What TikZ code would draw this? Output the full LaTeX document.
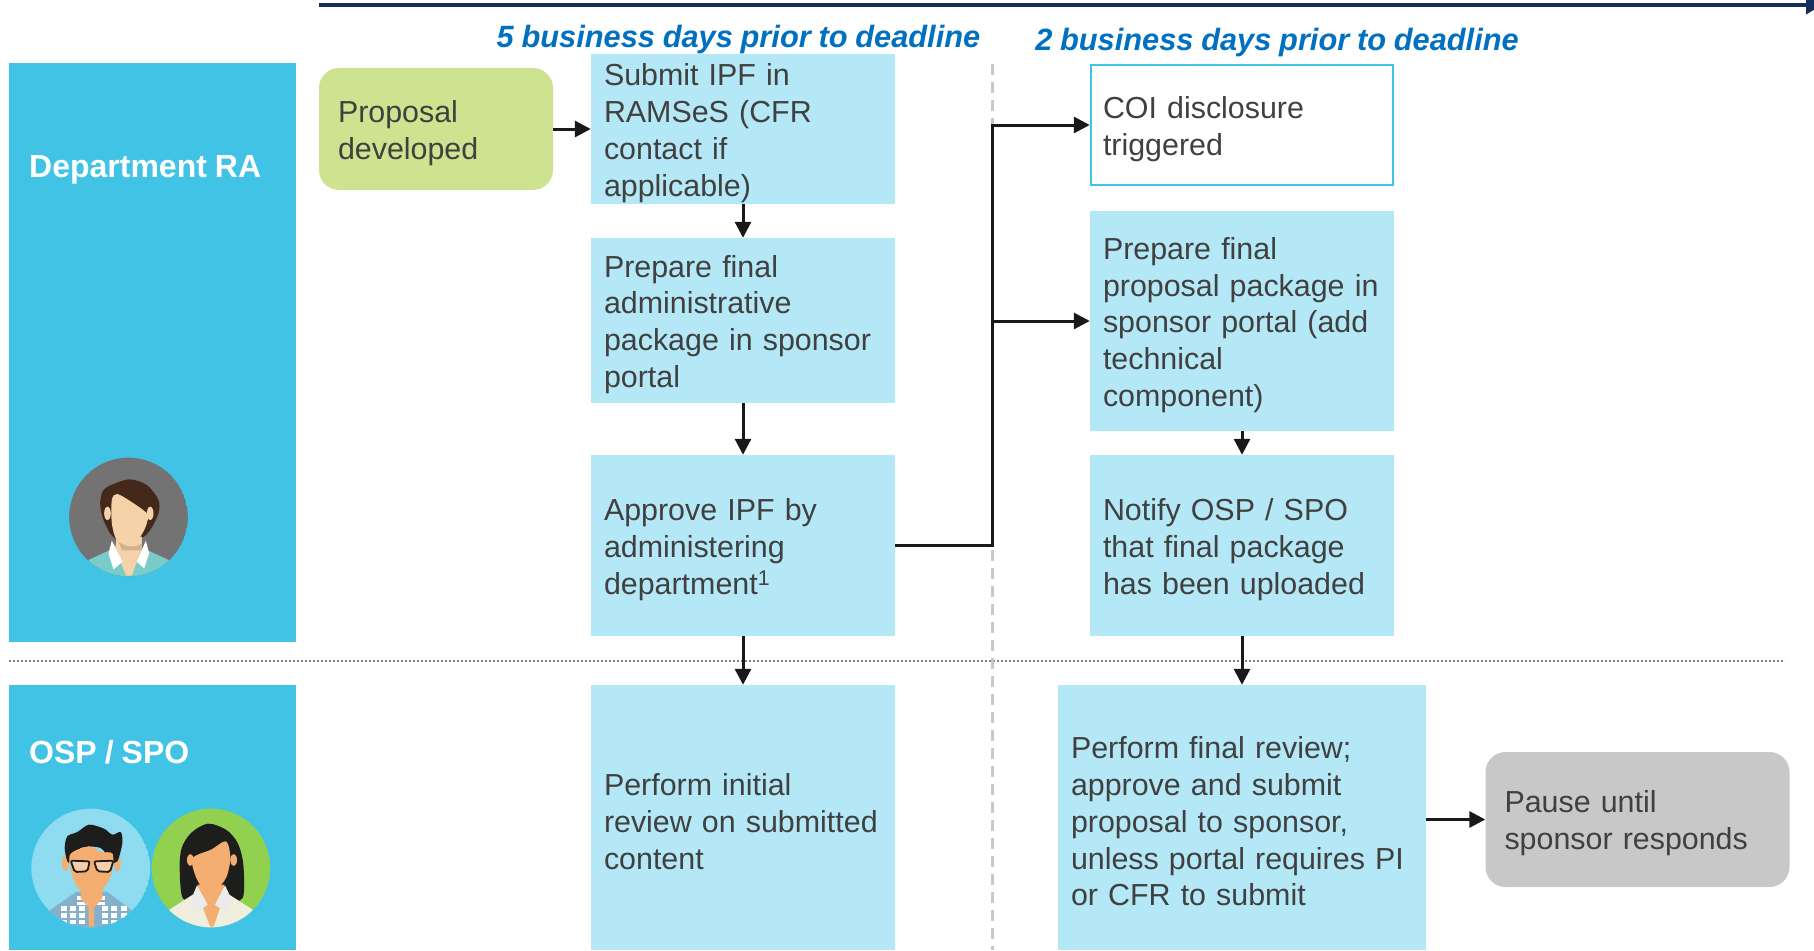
\documentclass[tikz,border=0pt]{standalone}
\usepackage{fontspec}
\setmainfont[WordSpace=0.9]{Liberation Sans}
\usetikzlibrary{arrows.meta,positioning}

\definecolor{bandblue}{HTML}{41C3E6}
\definecolor{boxblue}{HTML}{B4E8F6}
\definecolor{timenavy}{HTML}{14305A}
\definecolor{headblue}{HTML}{0070C0}
\definecolor{textgrey}{HTML}{404040}
\definecolor{propgreen}{HTML}{CEE38F}
\definecolor{pausegrey}{HTML}{C8C8C8}
\definecolor{hairbrown}{HTML}{44281A}
\definecolor{skinlight}{HTML}{F6D2A8}
\definecolor{skintan}{HTML}{F4AE72}
\definecolor{hairblack}{HTML}{1D1D1B}
\definecolor{shirtteal}{HTML}{7ACCCA}
\definecolor{skyback}{HTML}{8FDBF0}
\definecolor{leafback}{HTML}{92D050}
\definecolor{plaidblue}{HTML}{85B0CC}
\definecolor{blousecream}{HTML}{F0EFDF}

\begin{document}
\begin{tikzpicture}[%
    x=1pt, y=-1pt,
    >={Triangle[length=16pt,width=16pt]},
    on grid,
    flow/.style={line width=3pt, color=black!90},
    stagebox/.style={fill=boxblue, inner xsep=13pt, inner ysep=0pt, text width=278pt,
      align=left, text=textgrey, font=\fontsize{30.4}{36.8}\selectfont,
      execute at end node={\endgraf\vspace*{-8pt}}},
    bandbox/.style={fill=bandblue, inner sep=0pt, minimum width=287pt},
    bandlabel/.style={anchor=west, inner sep=0pt, text=white, font=\fontsize{32}{36}\selectfont\bfseries},
    dayslabel/.style={inner sep=0pt, text=headblue, font=\fontsize{30.8}{36}\selectfont\bfseries\itshape},
    roundbox/.style={rounded corners=20pt, inner xsep=19pt, inner ysep=0pt, text width=266pt,
      align=left, text=textgrey, font=\fontsize{30.4}{36.8}\selectfont,
      execute at end node={\endgraf\vspace*{-8pt}}}
  ]
    \useasboundingbox (0,0) rectangle (1814,950);

    % lanes
    \node[bandbox, minimum height=579pt] (ralane) at (152.5,352.5) {};
    \node[bandbox, minimum height=265pt] (osplane) [below=465pt of ralane] {};
    \node[bandlabel] (ralabel) at (29,170) {Department RA};
    \node[bandlabel] (osplabel) at (29,752) {OSP / SPO};

    \coordinate (sepstart) at (9,661);
    \coordinate (sepend) at (1785,661);
    \coordinate (midtop) at (992.5,64);
    \coordinate (midend) at (992.5,950);
    \draw[line width=2pt, draw=black!50, dotted] (sepstart) -- (sepend);
    \draw[line width=2.5pt, draw=pausegrey, dash pattern=on 11pt off 7pt] (midtop) -- (midend);

    % timeline
    \coordinate (timestart) at (319,5);
    \coordinate (timeend) at (1822,5);
    \draw[->, line width=4pt, draw=timenavy, fill=timenavy, >={Triangle[length=16pt,width=18pt]}] (timestart) -- (timeend);
    \node[dayslabel] (fivedays) at (738.5,40) {5 business days prior to deadline};
    \node[dayslabel] (twodays) [right=538.5pt of fivedays, yshift=-3pt] {2 business days prior to deadline};

    % first column
    \node[roundbox, fill=propgreen, text width=196pt, minimum height=122pt] (proposal) at (436,129) {Proposal\\developed};
    \node[stagebox, minimum height=149pt] (submit) [right=307pt of proposal] {Submit IPF in\\RAMSeS (CFR\\contact if\\applicable)};
    \node[stagebox, minimum height=165pt] (package) [below=191.5pt of submit] {Prepare final\\administrative\\package in sponsor\\portal};
    \node[stagebox, minimum height=181pt] (approve) [below=225pt of package] {Approve IPF by\\administering\\department\textsuperscript{1}};
    \node[stagebox, minimum height=265pt] (initial) [below=272pt of approve] {Perform initial\\review on submitted\\content};

    % second column
    \node[stagebox, fill=white, draw=bandblue, line width=2.5pt, inner xsep=12pt, text width=278pt, minimum height=120pt] (coi) at (1242,125) {COI disclosure\\triggered};
    \node[stagebox, minimum height=220pt] (final) [below=196pt of coi] {Prepare final\\proposal package in\\sponsor portal (add\\technical\\component)};
    \node[stagebox, minimum height=181pt] (notify) [below=224.5pt of final] {Notify OSP / SPO\\that final package\\has been uploaded};
    \node[stagebox, minimum height=265pt, text width=342pt] (review) [below=272pt of notify] {Perform final review;\\approve and submit\\proposal to sponsor,\\unless portal requires PI\\or CFR to submit};
    \node[roundbox, fill=pausegrey, minimum height=135pt] (pause) at (1637.5,819.5) {Pause until\\sponsor responds};

    \coordinate (bus) at (992.5,545.5);
    \path[->, flow] (proposal) edge (submit.west |- proposal)
              (submit)  edge (package)
              (package) edge (approve)
              (approve) edge (initial)
              (final)   edge (notify)
              (notify)  edge (review)
              (review.east |- pause) edge (pause);
    \draw[->, flow] (approve.east) -- (bus) |- (coi.west);
    \draw[->, flow] (bus |- final.west) -- (final.west);

    % department avatar
    \begin{scope}[shift={(128.5,517)}, scale=1/3]
      \clip (0,0) circle (178);
      \fill[black!55] (0,0) circle (178);
      \fill[hairbrown] plot[smooth cycle] coordinates {(-40,64) (-75,9) (-85,-41) (-75,-81) (-40,-101) (5,-113) (55,-96) (90,-51) (90,-11) (65,39) (35,64)};
      \fill[shirtteal] (-120,129) -- (-45,94) -- (45,94) -- (120,129) -- (120,189) -- (-120,189) -- cycle;
      \fill[skinlight] (-35,59) -- (40,59) -- (40,94) -- (10,176) -- (-7,176) -- (-40,94) -- cycle;
      \fill[black!15!skinlight] (-30,74) .. controls (0,95) and (20,90) .. (40,80) -- (40,100) -- (-20,100) -- cycle;
      \fill[white] (-50,71) -- (-60,109) -- (-45,157) -- (-18,134) -- cycle;
      \fill[white] (52,71) -- (62,109) -- (47,154) -- (25,134) -- cycle;
      \fill[skinlight] (-63,-11) circle (10 and 20) (65,-11) circle (10 and 20);
      \fill[skinlight] plot[smooth cycle] coordinates {(-50,-51) (-35,-69) (0,-51) (55,-11) (55,19) (35,59) (0,79) (-35,69) (-50,19)};
    \end{scope}

    % osp avatars
    \begin{scope}[shift={(90.7,868)}, scale=1/3]
      \clip (0,0) circle (178);
      \fill[skyback] (0,0) circle (178);
      \fill[plaidblue] (-122,126) -- (-42,71) -- (48,71) -- (123,126) -- (123,181) -- (-122,181) -- cycle;
      \foreach \gridy in {115,135,155} \foreach \gridx in {-90,-62,-34,34,62,90}
        \fill[white] (\gridx,\gridy) rectangle +(18,14);
      \foreach \gridy in {85,102} {\fill[white] (-40,\gridy) rectangle +(26,10); \fill[white] (18,\gridy) rectangle +(26,10);}
      \fill[skintan] (-30,50) -- (36,50) -- (36,90) -- (10,120) -- (10,176) -- (-6,176) -- (-6,120) -- (-30,90) -- cycle;
      \fill[skintan] (-76,-15) circle (10 and 24) (80,-15) circle (10 and 24);
      \fill[hairblack] plot[smooth cycle] coordinates {(-70,-20) (-78,-60) (-70,-95) (-40,-108) (-5,-130) (40,-118) (65,-100) (90,-108) (95,-75) (80,-20) (60,-20) (30,-60) (-30,-60) (-60,-20)};
      \fill[skintan] plot[smooth cycle] coordinates {(-62,-40) (-5,-65) (30,-48) (66,-42) (62,20) (38,60) (0,78) (-34,65) (-55,25)};
      \draw[hairblack, line width=1.8pt, fill=skintan!60!white, rounded corners=2pt] (-60,-22) -- (-3,-20) -- (-10,10) -- (-48,12) -- cycle;
      \draw[hairblack, line width=1.8pt, fill=skintan!60!white, rounded corners=2pt] (10,-20) -- (68,-22) -- (58,12) -- (20,10) -- cycle;
    \end{scope}
    \begin{scope}[shift={(211,868)}, scale=1/3]
      \clip (0,0) circle (178);
      \fill[leafback] (0,0) circle (178);
      \fill[hairblack] plot[smooth cycle] coordinates {(-85,90) (-94,0) (-88,-60) (-60,-105) (-10,-133) (45,-115) (80,-75) (97,-10) (95,90) (40,100) (-40,100)};
      \fill[blousecream] (-125,125) -- (-55,80) -- (55,80) -- (125,125) -- (125,181) -- (-125,181) -- cycle;
      \fill[skintan] (-40,50) -- (40,50) -- (40,80) -- (8,176) -- (-2,176) -- (-40,80) -- cycle;
      \fill[black!8!white] (-42,52) -- (-58,90) -- (-48,138) -- (-10,110) -- cycle;
      \fill[black!8!white] (42,52) -- (60,90) -- (52,138) -- (12,110) -- cycle;
      \fill[skintan] (-62,-24) circle (10 and 18) (68,-24) circle (10 and 18);
      \fill[skintan] plot[smooth cycle] coordinates {(-55,-30) (0,-55) (45,-80) (58,-30) (45,30) (10,68) (-25,60) (-48,20)};
    \end{scope}
  \end{tikzpicture}
\end{document}
